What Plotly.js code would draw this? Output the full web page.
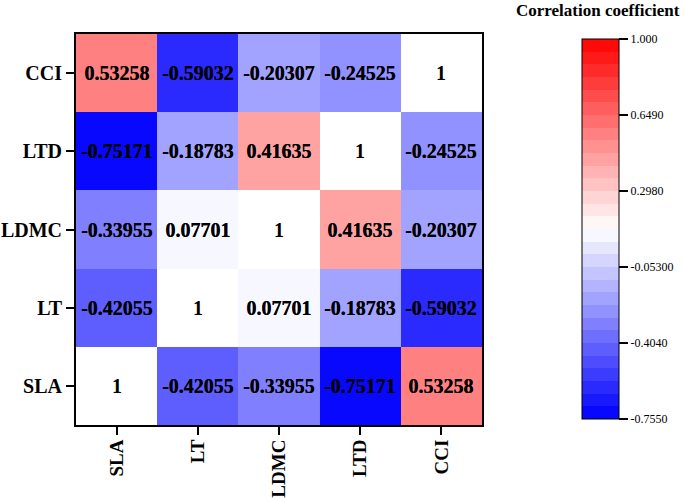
<!DOCTYPE html>
<html>
<head>
<meta charset="utf-8">
<script src="https://cdn.plot.ly/plotly-3.0.1.min.js"></script>
<style>html,body{margin:0;padding:0;background:#fff;}</style>
</head>
<body>
<div id="chart" style="width:685px;height:498px;"></div>
<script>
// Variables (bottom to top on y, left to right on x)
const labels = ["SLA", "LT", "LDMC", "LTD", "CCI"];
// Correlation rows, one per variable, in the same order as labels
const rowSLA  = [1, -0.42055, -0.33955, -0.75171, 0.53258];
const rowLT   = [-0.42055, 1, 0.07701, -0.18783, -0.59032];
const rowLDMC = [-0.33955, 0.07701, 1, 0.41635, -0.20307];
const rowLTD  = [-0.75171, -0.18783, 0.41635, 1, -0.24525];
const rowCCI  = [0.53258, -0.59032, -0.20307, -0.24525, 1];
const matrix = [rowSLA, rowLT, rowLDMC, rowLTD, rowCCI];
// Colour bar range and ticks
const zMin = -0.755, zMax = 1.0;
const cbTickVals = [1.0, 0.649, 0.298, -0.053, -0.404, -0.755];
const cbTickText = ["1.000", "0.6490", "0.2980", "-0.05300", "-0.4040", "-0.7550"];
const nBands = 30;

// Banded blue-white-red colour scale
function colAt(t) {
  let r, g, b;
  if (t < 0.5) { const f = (0.5 - t) * 2; r = g = Math.round(255 * (1 - f)); b = 255; }
  else { const f = (t - 0.5) * 2; r = 255; g = b = Math.round(255 * (1 - f)); }
  return `rgb(${r},${g},${b})`;
}
const cs = [];
for (let i = 0; i < nBands; i++) {
  const c = colAt((i + 0.5) / nBands);
  cs.push([i / nBands, c]);
  cs.push([(i + 1) / nBands, c]);
}

const offZ = matrix.map((row, i) => row.map((v, j) => i === j ? null : v));
const diagZ = matrix.map((row, i) => row.map((v, j) => i === j ? v : null));
const txt = matrix.map(row => row.map(v => String(v)));

const font = "Liberation Serif";
const cellFont = {family: font, size: 20, color: "#000", weight: "bold"};

const traces = [
  {
    type: "heatmap", x: labels, y: labels, z: offZ,
    zmin: zMin, zmax: zMax, colorscale: cs,
    text: txt, texttemplate: "%{text}", textfont: cellFont,
    hoverinfo: "skip",
    colorbar: {
      thickness: 37, thicknessmode: "pixels",
      len: 380, lenmode: "pixels",
      x: (582 - 76) / 407, xanchor: "left", xref: "paper",
      y: (425 - 39) / 391, yanchor: "top", yref: "paper",
      xpad: 0, ypad: 0,
      outlinewidth: 1, outlinecolor: "#000",
      ticks: "outside", ticklen: 9, tickwidth: 1.5, tickcolor: "#000",
      tickvals: cbTickVals, ticktext: cbTickText,
      tickfont: {family: font, size: 12, color: "#000"}
    }
  },
  {
    type: "heatmap", x: labels, y: labels, z: diagZ,
    zmin: 0, zmax: 1, colorscale: [[0, "#ffffff"], [1, "#ffffff"]],
    showscale: false,
    text: txt, texttemplate: "%{text}", textfont: cellFont,
    hoverinfo: "skip"
  }
];

const axisCommon = {
  type: "category", showgrid: false, zeroline: false,
  showline: true, mirror: true, linecolor: "#000", linewidth: 2,
  ticks: "outside", ticklen: 8, tickwidth: 2, tickcolor: "#000",
  tickfont: {family: font, size: 20, color: "#000", weight: "bold"}
};

const layout = {
  width: 685, height: 498,
  margin: {l: 76, r: 202, t: 34, b: 73},
  paper_bgcolor: "#fff", plot_bgcolor: "#fff",
  xaxis: Object.assign({}, axisCommon, {
    tickangle: -90, automargin: false, ticklabelstandoff: -3,
    tickfont: {family: font, size: 19, color: "#000", weight: "bold"}
  }),
  yaxis: Object.assign({}, axisCommon, {automargin: false}),
  showlegend: false,
  annotations: [{
    text: "Correlation coefficient", showarrow: false,
    xref: "paper", yref: "paper",
    x: (683 - 76) / 407, xanchor: "right",
    y: (425 - 10) / 391, yanchor: "middle",
    font: {family: font, size: 17, color: "#000", weight: "bold"}
  }]
};

Plotly.newPlot("chart", traces, layout, {displayModeBar: false, staticPlot: true});
</script>
</body>
</html>
